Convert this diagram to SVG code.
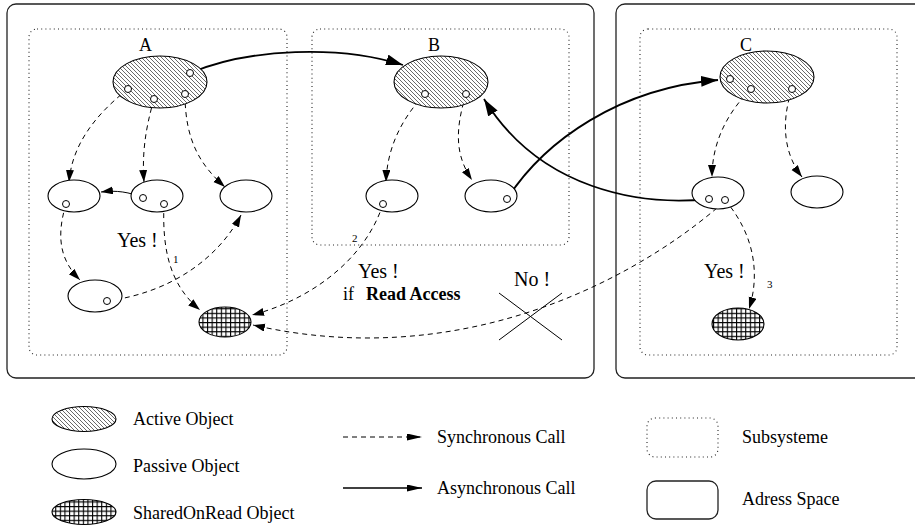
<svg xmlns="http://www.w3.org/2000/svg" width="915" height="529" viewBox="0 0 915 529">
<style>
.addr{fill:none;stroke:#222;stroke-width:1.3}
.sub{fill:none;stroke:#222;stroke-width:1.1;stroke-dasharray:1 3.2}
.act{fill:url(#hatch);stroke:#000;stroke-width:1.1}
.pas{fill:#fff;stroke:#000;stroke-width:1.1}
.sor{fill:url(#grid);stroke:#000;stroke-width:1.1}
.port{fill:#fff;stroke:#000;stroke-width:1}
.sync{fill:none;stroke:#000;stroke-width:1;stroke-dasharray:5 4;marker-end:url(#ah)}
.async{fill:none;stroke:#000;stroke-width:1.8;marker-end:url(#ahb)}
.thin{fill:none;stroke:#000;stroke-width:1;marker-end:url(#ah)}
.lbl{font-family:"Liberation Serif","Times New Roman",serif;fill:#000}
.big{font-size:20px}
.leg{font-size:18px}
.num{font-size:11px}
.name{font-size:18px}
</style>
<defs>
<pattern id="hatch" patternUnits="userSpaceOnUse" width="4" height="4">
<rect width="4" height="4" fill="#fff"/>
<path d="M0,0 L4,4 M-1,3 L1,5 M3,-1 L5,1" stroke="#444" stroke-width="0.8"/>
</pattern>
<pattern id="grid" patternUnits="userSpaceOnUse" width="4.6" height="4.6">
<rect width="4.6" height="4.6" fill="#fff"/>
<path d="M0,0 H4.6 M0,0 V4.6" stroke="#000" stroke-width="2.2"/>
</pattern>
<marker id="ah" markerUnits="userSpaceOnUse" markerWidth="13" markerHeight="9" refX="12" refY="4" orient="auto">
<path d="M0,0 L12,4 L0,8 Z" fill="#000"/>
</marker>
<marker id="ahb" markerUnits="userSpaceOnUse" markerWidth="18" markerHeight="12" refX="17" refY="5.5" orient="auto">
<path d="M0,0 L17,5.5 L0,11 Z" fill="#000"/>
</marker>
<marker id="ahl" markerUnits="userSpaceOnUse" markerWidth="16" markerHeight="8" refX="15" refY="3.5" orient="auto">
<path d="M0,0 L15,3.5 L0,7 Z" fill="#000"/>
</marker>
</defs>

<g id="address-space-1"><rect class="addr" x="7" y="4" width="587" height="374" rx="9"/></g>
<g id="address-space-2"><rect class="addr" x="616" y="4" width="310" height="374" rx="9"/></g>
<g id="subsystem-a"><rect class="sub" x="29" y="29" width="258" height="326" rx="8"/></g>
<g id="subsystem-b"><rect class="sub" x="312" y="29" width="257" height="216" rx="8"/></g>
<g id="subsystem-c"><rect class="sub" x="640" y="29" width="257" height="326" rx="8"/></g>

<g id="connectors">
<path class="async" d="M190,73 C250,48 340,45 403,65"/>
<path class="async" d="M507,199 C545,140 620,88 718,80"/>
<path class="async" d="M709,199 C640,206 540,190 484,99"/>
<path class="thin" d="M143,198 C130,192 116,190 101,192"/>
<path class="sync" d="M128,89 C95,115 72,145 69,182"/>
<path class="sync" d="M154,99 C145,130 142,155 144,182"/>
<path class="sync" d="M185,94 C185,140 200,165 225,187"/>
<path class="sync" d="M66,204 C55,240 62,262 80,280"/>
<path class="sync" d="M107,301 C175,292 220,255 241,215"/>
<path class="sync" d="M164,204 C162,250 170,285 200,310"/>
<path class="sync" d="M383,204 C365,260 310,300 252,315"/>
<path class="sync" d="M717,208 C620,290 450,370 253,325"/>
<path class="sync" d="M725,200 C755,235 760,275 749,309"/>
<path class="sync" d="M425,94 C400,120 387,150 386,182"/>
<path class="sync" d="M466,94 C455,130 455,155 472,180"/>
<path class="sync" d="M751,89 C725,115 712,145 712,177"/>
<path class="sync" d="M792,89 C780,125 785,155 802,177"/>
</g>

<g id="active-a">
<ellipse class="act" cx="160" cy="82" rx="47" ry="26"/>
<text class="lbl name" x="139" y="51">A</text>
<circle class="port" cx="190" cy="73" r="3.5"/>
<circle class="port" cx="128" cy="89" r="3.5"/>
<circle class="port" cx="154" cy="99" r="3.5"/>
<circle class="port" cx="185" cy="94" r="3.5"/>
</g>
<g id="active-b">
<ellipse class="act" cx="441" cy="82" rx="47" ry="26"/>
<text class="lbl name" x="428" y="51">B</text>
<circle class="port" cx="425" cy="94" r="3.5"/>
<circle class="port" cx="466" cy="94" r="3.5"/>
</g>
<g id="active-c">
<ellipse class="act" cx="767" cy="77" rx="47" ry="26"/>
<text class="lbl name" x="740" y="51">C</text>
<circle class="port" cx="730" cy="79" r="3.5"/>
<circle class="port" cx="751" cy="89" r="3.5"/>
<circle class="port" cx="792" cy="89" r="3.5"/>
</g>

<g id="passive-a1"><ellipse class="pas" cx="74" cy="196" rx="26" ry="16"/><circle class="port" cx="66" cy="204" r="3.5"/></g>
<g id="passive-a2"><ellipse class="pas" cx="157" cy="196" rx="26" ry="16"/><circle class="port" cx="143" cy="198" r="3.5"/><circle class="port" cx="164" cy="204" r="3.5"/></g>
<g id="passive-a3"><ellipse class="pas" cx="246" cy="196" rx="26" ry="16"/></g>
<g id="passive-a4"><ellipse class="pas" cx="95" cy="296" rx="27" ry="16"/><circle class="port" cx="107" cy="301" r="3.5"/></g>
<g id="shared-a"><ellipse class="sor" cx="225" cy="322" rx="26" ry="15"/></g>

<g id="passive-b1"><ellipse class="pas" cx="392" cy="196" rx="26" ry="16"/><circle class="port" cx="383" cy="204" r="3.5"/></g>
<g id="passive-b2"><ellipse class="pas" cx="491" cy="196" rx="26" ry="16"/><circle class="port" cx="507" cy="199" r="3.5"/></g>

<g id="passive-c1"><ellipse class="pas" cx="718" cy="193" rx="26" ry="16"/><circle class="port" cx="709" cy="199" r="3.5"/><circle class="port" cx="725" cy="200" r="3.5"/></g>
<g id="passive-c2"><ellipse class="pas" cx="817" cy="192" rx="26" ry="16"/></g>
<g id="shared-c"><ellipse class="sor" cx="738" cy="324" rx="26" ry="16"/></g>

<g id="annotations">
<text class="lbl big" x="117" y="247">Yes !</text>
<text class="lbl num" x="173" y="263">1</text>
<text class="lbl num" x="352" y="242">2</text>
<text class="lbl big" x="358" y="278">Yes !</text>
<text class="lbl" x="343" y="300" style="font-size:18px">if</text>
<text class="lbl" x="366" y="300" style="font-size:18px;font-weight:bold">Read Access</text>
<text class="lbl big" x="514" y="286">No !</text>
<path d="M499,293 L562,340 M499,340 L562,293" stroke="#000" stroke-width="1" fill="none"/>
<text class="lbl big" x="704" y="278">Yes !</text>
<text class="lbl num" x="767" y="288">3</text>
</g>

<g id="legend">
<ellipse class="act" cx="84" cy="419" rx="32" ry="12.5"/>
<text class="lbl leg" x="133" y="425">Active Object</text>
<ellipse class="pas" cx="84" cy="464" rx="32" ry="15"/>
<text class="lbl leg" x="133" y="472">Passive Object</text>
<ellipse class="sor" cx="84" cy="512" rx="32" ry="12.5"/>
<text class="lbl leg" x="133" y="519">SharedOnRead Object</text>
<path d="M343,437 L422,437" fill="none" stroke="#000" stroke-width="1" stroke-dasharray="5 4" marker-end="url(#ahl)"/>
<text class="lbl leg" x="437" y="443">Synchronous Call</text>
<path d="M343,488 L422,488" fill="none" stroke="#000" stroke-width="1.3" marker-end="url(#ahl)"/>
<text class="lbl leg" x="437" y="494">Asynchronous Call</text>
<rect class="sub" x="647" y="418" width="71" height="39" rx="8"/>
<text class="lbl leg" x="742" y="443">Subsysteme</text>
<rect class="addr" x="647" y="481" width="71" height="38" rx="9"/>
<text class="lbl leg" x="742" y="505">Adress Space</text>
</g>
</svg>
